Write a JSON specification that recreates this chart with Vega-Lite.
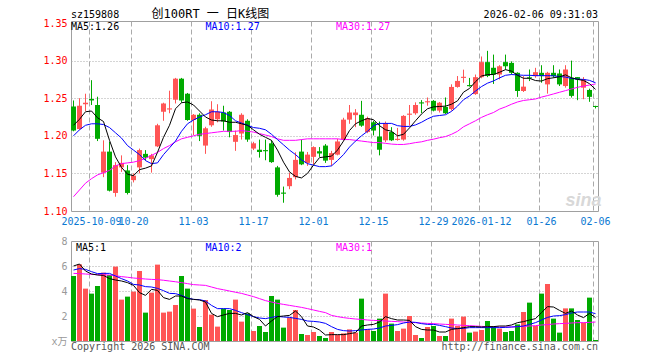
{
"$schema": "https://vega.github.io/schema/vega-lite/v6.json",
"background": "white",
"padding": {"left": 42, "top": 7, "right": 0, "bottom": 0},
"bounds": "flush",
"spacing": 30,
"config": {"view": {"stroke": "#a0a0a0", "strokeWidth": 1}, "font": "DejaVu Sans Mono, Noto Sans CJK SC", "text": {"font": "DejaVu Sans Mono, Noto Sans CJK SC", "fontSize": 10},
  "axis": {"labelOverlap": false, "labelFlush": false, "labelBound": false}},
"datasets": {"k": [
{"d":"2025-09-26","o":1.239,"h":1.247,"l":1.206,"c":1.207,"v":5.20,"m5":1.214,"m10":1.200,"m30":1.119,"vm5":6.00,"vm10":5.68,"vm30":5.41},
{"d":"2025-09-29","o":1.209,"h":1.250,"l":1.208,"c":1.240,"v":6.13,"m5":1.222,"m10":1.208,"m30":1.128,"vm5":6.16,"vm10":5.79,"vm30":5.39},
{"d":"2025-09-30","o":1.242,"h":1.256,"l":1.233,"c":1.244,"v":4.19,"m5":1.232,"m10":1.214,"m30":1.137,"vm5":5.60,"vm10":5.73,"vm30":5.36},
{"d":"2025-10-09","o":1.249,"h":1.274,"l":1.241,"c":1.247,"v":3.79,"m5":1.233,"m10":1.216,"m30":1.143,"vm5":5.36,"vm10":5.55,"vm30":5.33},
{"d":"2025-10-10","o":1.241,"h":1.252,"l":1.193,"c":1.196,"v":4.40,"m5":1.224,"m10":1.216,"m30":1.148,"vm5":5.28,"vm10":5.39,"vm30":5.31},
{"d":"2025-10-13","o":1.151,"h":1.194,"l":1.145,"c":1.179,"v":5.47,"m5":1.219,"m10":1.215,"m30":1.151,"vm5":5.25,"vm10":5.41,"vm30":5.29},
{"d":"2025-10-14","o":1.179,"h":1.192,"l":1.126,"c":1.127,"v":5.28,"m5":1.194,"m10":1.211,"m30":1.154,"vm5":4.99,"vm10":5.41,"vm30":5.28},
{"d":"2025-10-15","o":1.124,"h":1.165,"l":1.119,"c":1.161,"v":5.95,"m5":1.172,"m10":1.204,"m30":1.160,"vm5":4.88,"vm10":5.20,"vm30":5.22},
{"d":"2025-10-16","o":1.158,"h":1.174,"l":1.152,"c":1.164,"v":3.31,"m5":1.158,"m10":1.197,"m30":1.163,"vm5":4.80,"vm10":4.99,"vm30":5.15},
{"d":"2025-10-17","o":1.154,"h":1.161,"l":1.122,"c":1.124,"v":3.55,"m5":1.149,"m10":1.187,"m30":1.164,"vm5":4.67,"vm10":4.80,"vm30":5.10},
{"d":"2025-10-20","o":1.141,"h":1.150,"l":1.138,"c":1.147,"v":3.95,"m5":1.147,"m10":1.181,"m30":1.165,"vm5":4.45,"vm10":4.53,"vm30":5.04},
{"d":"2025-10-21","o":1.158,"h":1.183,"l":1.150,"c":1.181,"v":5.60,"m5":1.155,"m10":1.175,"m30":1.167,"vm5":3.87,"vm10":4.48,"vm30":5.00},
{"d":"2025-10-22","o":1.176,"h":1.181,"l":1.167,"c":1.171,"v":2.27,"m5":1.157,"m10":1.167,"m30":1.170,"vm5":3.65,"vm10":4.35,"vm30":4.96},
{"d":"2025-10-23","o":1.169,"h":1.176,"l":1.151,"c":1.174,"v":3.87,"m5":1.160,"m10":1.163,"m30":1.174,"vm5":4.13,"vm10":4.32,"vm30":4.93},
{"d":"2025-10-24","o":1.186,"h":1.216,"l":1.185,"c":1.214,"v":6.11,"m5":1.178,"m10":1.164,"m30":1.178,"vm5":4.05,"vm10":4.21,"vm30":4.91},
{"d":"2025-10-27","o":1.232,"h":1.244,"l":1.220,"c":1.243,"v":2.27,"m5":1.198,"m10":1.175,"m30":1.183,"vm5":3.47,"vm10":4.03,"vm30":4.86},
{"d":"2025-10-28","o":1.235,"h":1.260,"l":1.230,"c":1.2365,"v":2.35,"m5":1.214,"m10":1.184,"m30":1.187,"vm5":3.33,"vm10":3.81,"vm30":4.80},
{"d":"2025-10-29","o":1.248,"h":1.277,"l":1.243,"c":1.276,"v":2.88,"m5":1.236,"m10":1.193,"m30":1.192,"vm5":3.60,"vm10":3.79,"vm30":4.74},
{"d":"2025-10-30","o":1.276,"h":1.277,"l":1.244,"c":1.247,"v":5.20,"m5":1.244,"m10":1.206,"m30":1.196,"vm5":3.60,"vm10":3.65,"vm30":4.67},
{"d":"2025-10-31","o":1.256,"h":1.257,"l":1.220,"c":1.221,"v":4.19,"m5":1.245,"m10":1.216,"m30":1.198,"vm5":3.39,"vm10":3.44,"vm30":4.59},
{"d":"2025-11-03","o":1.221,"h":1.229,"l":1.201,"c":1.228,"v":2.59,"m5":1.241,"m10":1.221,"m30":1.200,"vm5":3.33,"vm10":3.33,"vm30":4.51},
{"d":"2025-11-04","o":1.228,"h":1.230,"l":1.193,"c":1.200,"v":1.12,"m5":1.233,"m10":1.225,"m30":1.202,"vm5":3.28,"vm10":3.31,"vm30":4.48},
{"d":"2025-11-05","o":1.187,"h":1.212,"l":1.176,"c":1.210,"v":3.28,"m5":1.225,"m10":1.228,"m30":1.203,"vm5":3.12,"vm10":3.20,"vm30":4.45},
{"d":"2025-11-06","o":1.214,"h":1.246,"l":1.212,"c":1.235,"v":2.11,"m5":1.221,"m10":1.232,"m30":1.204,"vm5":2.21,"vm10":2.85,"vm30":4.32},
{"d":"2025-11-07","o":1.222,"h":1.242,"l":1.218,"c":1.232,"v":1.15,"m5":1.220,"m10":1.232,"m30":1.205,"vm5":1.95,"vm10":2.59,"vm30":4.19},
{"d":"2025-11-10","o":1.231,"h":1.240,"l":1.207,"c":1.219,"v":2.59,"m5":1.220,"m10":1.231,"m30":1.206,"vm5":2.08,"vm10":2.59,"vm30":4.10},
{"d":"2025-11-11","o":1.232,"h":1.233,"l":1.198,"c":1.205,"v":2.48,"m5":1.218,"m10":1.227,"m30":1.206,"vm5":2.21,"vm10":2.59,"vm30":4.00},
{"d":"2025-11-12","o":1.192,"h":1.207,"l":1.180,"c":1.201,"v":3.31,"m5":1.218,"m10":1.220,"m30":1.206,"vm5":2.21,"vm10":2.45,"vm30":3.90},
{"d":"2025-11-13","o":1.203,"h":1.230,"l":1.195,"c":1.228,"v":1.55,"m5":1.216,"m10":1.217,"m30":1.207,"vm5":2.08,"vm10":2.27,"vm30":3.81},
{"d":"2025-11-14","o":1.220,"h":1.222,"l":1.192,"c":1.195,"v":2.21,"m5":1.214,"m10":1.214,"m30":1.206,"vm5":2.27,"vm10":2.11,"vm30":3.68},
{"d":"2025-11-17","o":1.183,"h":1.192,"l":1.181,"c":1.190,"v":0.80,"m5":1.208,"m10":1.211,"m30":1.205,"vm5":1.95,"vm10":1.95,"vm30":3.55},
{"d":"2025-11-18","o":1.1815,"h":1.195,"l":1.171,"c":1.1785,"v":1.20,"m5":1.202,"m10":1.210,"m30":1.203,"vm5":1.73,"vm10":1.84,"vm30":3.39},
{"d":"2025-11-19","o":1.181,"h":1.195,"l":1.1675,"c":1.1795,"v":0.72,"m5":1.198,"m10":1.208,"m30":1.201,"vm5":1.20,"vm10":1.79,"vm30":3.23},
{"d":"2025-11-20","o":1.190,"h":1.194,"l":1.164,"c":1.165,"v":3.60,"m5":1.194,"m10":1.202,"m30":1.199,"vm5":1.60,"vm10":1.89,"vm30":3.12},
{"d":"2025-11-21","o":1.158,"h":1.160,"l":1.119,"c":1.1215,"v":3.31,"m5":1.181,"m10":1.195,"m30":1.196,"vm5":1.95,"vm10":1.97,"vm30":3.01},
{"d":"2025-11-24","o":1.1245,"h":1.1325,"l":1.111,"c":1.123,"v":1.07,"m5":1.165,"m10":1.188,"m30":1.194,"vm5":2.00,"vm10":1.92,"vm30":2.93},
{"d":"2025-11-25","o":1.133,"h":1.151,"l":1.129,"c":1.144,"v":1.87,"m5":1.152,"m10":1.181,"m30":1.194,"vm5":2.05,"vm10":1.89,"vm30":2.85},
{"d":"2025-11-26","o":1.145,"h":1.178,"l":1.142,"c":1.168,"v":2.48,"m5":1.146,"m10":1.175,"m30":1.194,"vm5":2.40,"vm10":1.81,"vm30":2.77},
{"d":"2025-11-27","o":1.179,"h":1.195,"l":1.161,"c":1.162,"v":0.56,"m5":1.144,"m10":1.168,"m30":1.195,"vm5":1.95,"vm10":1.73,"vm30":2.69},
{"d":"2025-11-28","o":1.164,"h":1.1785,"l":1.160,"c":1.175,"v":0.48,"m5":1.150,"m10":1.163,"m30":1.196,"vm5":1.20,"vm10":1.60,"vm30":2.59},
{"d":"2025-12-01","o":1.172,"h":1.186,"l":1.162,"c":1.185,"v":0.72,"m5":1.161,"m10":1.161,"m30":1.196,"vm5":1.12,"vm10":1.57,"vm30":2.48},
{"d":"2025-12-02","o":1.1795,"h":1.185,"l":1.172,"c":1.1765,"v":0.40,"m5":1.171,"m10":1.159,"m30":1.196,"vm5":0.88,"vm10":1.52,"vm30":2.37},
{"d":"2025-12-03","o":1.187,"h":1.189,"l":1.164,"c":1.167,"v":0.24,"m5":1.172,"m10":1.159,"m30":1.196,"vm5":0.48,"vm10":1.41,"vm30":2.27},
{"d":"2025-12-04","o":1.168,"h":1.180,"l":1.160,"c":1.177,"v":0.72,"m5":1.173,"m10":1.160,"m30":1.196,"vm5":0.51,"vm10":1.15,"vm30":2.05},
{"d":"2025-12-05","o":1.175,"h":1.196,"l":1.174,"c":1.1925,"v":0.48,"m5":1.181,"m10":1.167,"m30":1.196,"vm5":0.51,"vm10":0.93,"vm30":1.95},
{"d":"2025-12-08","o":1.195,"h":1.224,"l":1.194,"c":1.2215,"v":0.61,"m5":1.193,"m10":1.175,"m30":1.195,"vm5":0.51,"vm10":0.83,"vm30":1.87},
{"d":"2025-12-09","o":1.2215,"h":1.241,"l":1.216,"c":1.231,"v":0.93,"m5":1.207,"m10":1.185,"m30":1.195,"vm5":0.59,"vm10":0.80,"vm30":1.81},
{"d":"2025-12-10","o":1.2275,"h":1.2355,"l":1.2115,"c":1.231,"v":0.67,"m5":1.216,"m10":1.193,"m30":1.194,"vm5":0.67,"vm10":0.83,"vm30":1.76},
{"d":"2025-12-11","o":1.228,"h":1.2465,"l":1.212,"c":1.2135,"v":3.39,"m5":1.220,"m10":1.200,"m30":1.193,"vm5":1.20,"vm10":0.88,"vm30":1.73},
{"d":"2025-12-12","o":1.205,"h":1.2255,"l":1.2035,"c":1.2235,"v":0.93,"m5":1.223,"m10":1.206,"m30":1.192,"vm5":1.28,"vm10":0.93,"vm30":1.68},
{"d":"2025-12-15","o":1.218,"h":1.220,"l":1.2005,"c":1.207,"v":0.80,"m5":1.2215,"m10":1.2135,"m30":1.191,"vm5":1.33,"vm10":0.96,"vm30":1.65},
{"d":"2025-12-16","o":1.199,"h":1.219,"l":1.174,"c":1.1815,"v":1.79,"m5":1.2135,"m10":1.2165,"m30":1.191,"vm5":1.52,"vm10":1.04,"vm30":1.63},
{"d":"2025-12-17","o":1.194,"h":1.219,"l":1.1915,"c":1.217,"v":3.79,"m5":1.208,"m10":1.2165,"m30":1.190,"vm5":1.95,"vm10":1.20,"vm30":1.60},
{"d":"2025-12-18","o":1.205,"h":1.2115,"l":1.193,"c":1.194,"v":1.39,"m5":1.206,"m10":1.2165,"m30":1.189,"vm5":1.79,"vm10":1.25,"vm30":1.57},
{"d":"2025-12-19","o":1.1945,"h":1.2105,"l":1.1935,"c":1.196,"v":0.80,"m5":1.200,"m10":1.2135,"m30":1.1885,"vm5":1.68,"vm10":1.31,"vm30":1.55},
{"d":"2025-12-22","o":1.195,"h":1.2275,"l":1.1935,"c":1.2265,"v":0.99,"m5":1.202,"m10":1.2125,"m30":1.1885,"vm5":1.68,"vm10":1.44,"vm30":1.52},
{"d":"2025-12-23","o":1.228,"h":1.241,"l":1.2135,"c":1.2295,"v":2.00,"m5":1.2105,"m10":1.2125,"m30":1.1895,"vm5":1.65,"vm10":1.52,"vm30":1.49},
{"d":"2025-12-24","o":1.230,"h":1.2445,"l":1.228,"c":1.241,"v":0.48,"m5":1.220,"m10":1.2145,"m30":1.191,"vm5":1.15,"vm10":1.49,"vm30":1.47},
{"d":"2025-12-25","o":1.2445,"h":1.2475,"l":1.230,"c":1.243,"v":0.24,"m5":1.229,"m10":1.218,"m30":1.192,"vm5":0.93,"vm10":1.39,"vm30":1.44},
{"d":"2025-12-26","o":1.2445,"h":1.251,"l":1.240,"c":1.246,"v":1.12,"m5":1.236,"m10":1.2225,"m30":1.194,"vm5":0.88,"vm10":1.33,"vm30":1.41},
{"d":"2025-12-29","o":1.2465,"h":1.2475,"l":1.2325,"c":1.2335,"v":1.20,"m5":1.2385,"m10":1.226,"m30":1.1955,"vm5":0.88,"vm10":1.33,"vm30":1.39},
{"d":"2025-12-30","o":1.2335,"h":1.245,"l":1.231,"c":1.244,"v":0.40,"m5":1.239,"m10":1.227,"m30":1.1975,"vm5":0.72,"vm10":1.25,"vm30":1.36},
{"d":"2025-12-31","o":1.2385,"h":1.251,"l":1.229,"c":1.230,"v":0.40,"m5":1.2395,"m10":1.228,"m30":1.199,"vm5":0.72,"vm10":1.15,"vm30":1.33},
{"d":"2026-01-05","o":1.2355,"h":1.2685,"l":1.2335,"c":1.265,"v":1.79,"m5":1.242,"m10":1.2325,"m30":1.202,"vm5":0.93,"vm10":1.04,"vm30":1.31},
{"d":"2026-01-06","o":1.265,"h":1.2795,"l":1.264,"c":1.273,"v":1.20,"m5":1.2465,"m10":1.2395,"m30":1.206,"vm5":0.99,"vm10":0.99,"vm30":1.28},
{"d":"2026-01-07","o":1.277,"h":1.288,"l":1.2705,"c":1.2785,"v":1.95,"m5":1.258,"m10":1.248,"m30":1.212,"vm5":1.07,"vm10":1.01,"vm30":1.25},
{"d":"2026-01-08","o":1.2675,"h":1.277,"l":1.2655,"c":1.266,"v":0.67,"m5":1.263,"m10":1.253,"m30":1.216,"vm5":1.15,"vm10":1.07,"vm30":1.23},
{"d":"2026-01-09","o":1.2555,"h":1.2815,"l":1.2545,"c":1.278,"v":0.75,"m5":1.272,"m10":1.2595,"m30":1.220,"vm5":1.15,"vm10":1.07,"vm30":1.20},
{"d":"2026-01-12","o":1.278,"h":1.3055,"l":1.2765,"c":1.298,"v":0.88,"m5":1.2795,"m10":1.2655,"m30":1.2245,"vm5":1.12,"vm10":1.07,"vm30":1.17},
{"d":"2026-01-13","o":1.298,"h":1.313,"l":1.278,"c":1.2795,"v":1.60,"m5":1.2815,"m10":1.270,"m30":1.228,"vm5":1.15,"vm10":1.07,"vm30":1.15},
{"d":"2026-01-14","o":1.2905,"h":1.308,"l":1.269,"c":1.2815,"v":1.20,"m5":1.2815,"m10":1.273,"m30":1.231,"vm5":1.15,"vm10":1.07,"vm30":1.15},
{"d":"2026-01-15","o":1.2815,"h":1.294,"l":1.275,"c":1.2925,"v":0.99,"m5":1.2845,"m10":1.277,"m30":1.2355,"vm5":1.20,"vm10":1.07,"vm30":1.12},
{"d":"2026-01-16","o":1.298,"h":1.308,"l":1.288,"c":1.2925,"v":0.72,"m5":1.288,"m10":1.2805,"m30":1.2385,"vm5":1.20,"vm10":1.09,"vm30":1.12},
{"d":"2026-01-19","o":1.297,"h":1.299,"l":1.2815,"c":1.2838,"v":0.80,"m5":1.286,"m10":1.2815,"m30":1.242,"vm5":1.28,"vm10":1.12,"vm30":1.12},
{"d":"2026-01-20","o":1.2838,"h":1.2845,"l":1.2518,"c":1.2596,"v":1.33,"m5":1.2805,"m10":1.281,"m30":1.245,"vm5":1.47,"vm10":1.15,"vm30":1.15},
{"d":"2026-01-21","o":1.2596,"h":1.2794,"l":1.2583,"c":1.2654,"v":2.32,"m5":1.2765,"m10":1.2805,"m30":1.247,"vm5":1.55,"vm10":1.20,"vm30":1.17},
{"d":"2026-01-22","o":1.2778,"h":1.2882,"l":1.2728,"c":1.2765,"v":3.07,"m5":1.2765,"m10":1.2805,"m30":1.248,"vm5":1.68,"vm10":1.33,"vm30":1.20},
{"d":"2026-01-23","o":1.2794,"h":1.2904,"l":1.2772,"c":1.2846,"v":1.20,"m5":1.2735,"m10":1.280,"m30":1.249,"vm5":1.79,"vm10":1.47,"vm30":1.23},
{"d":"2026-01-26","o":1.2838,"h":1.2939,"l":1.2706,"c":1.2794,"v":3.79,"m5":1.2728,"m10":1.280,"m30":1.2515,"vm5":2.27,"vm10":1.68,"vm30":1.28},
{"d":"2026-01-27","o":1.2684,"h":1.2851,"l":1.2561,"c":1.2838,"v":4.56,"m5":1.276,"m10":1.280,"m30":1.2535,"vm5":2.75,"vm10":1.89,"vm30":1.31},
{"d":"2026-01-28","o":1.2838,"h":1.2939,"l":1.2772,"c":1.2794,"v":1.79,"m5":1.2772,"m10":1.2798,"m30":1.2557,"vm5":2.72,"vm10":2.00,"vm30":1.36},
{"d":"2026-01-29","o":1.2829,"h":1.2882,"l":1.2662,"c":1.2684,"v":0.67,"m5":1.2785,"m10":1.2789,"m30":1.2579,"vm5":2.45,"vm10":2.03,"vm30":1.39},
{"d":"2026-01-30","o":1.2662,"h":1.2939,"l":1.264,"c":1.2882,"v":2.61,"m5":1.2811,"m10":1.2781,"m30":1.2601,"vm5":2.21,"vm10":2.11,"vm30":1.41},
{"d":"2026-02-02","o":1.2772,"h":1.300,"l":1.2509,"c":1.2531,"v":2.61,"m5":1.2772,"m10":1.2763,"m30":1.2623,"vm5":2.40,"vm10":2.24,"vm30":1.44},
{"d":"2026-02-03","o":1.2781,"h":1.2781,"l":1.2474,"c":1.275,"v":1.68,"m5":1.275,"m10":1.2754,"m30":1.2645,"vm5":2.08,"vm10":2.32,"vm30":1.47},
{"d":"2026-02-04","o":1.264,"h":1.2781,"l":1.2487,"c":1.275,"v":1.47,"m5":1.2737,"m10":1.275,"m30":1.2662,"vm5":1.87,"vm10":2.32,"vm30":1.47},
{"d":"2026-02-05","o":1.261,"h":1.2627,"l":1.2452,"c":1.2518,"v":3.47,"m5":1.2693,"m10":1.2737,"m30":1.2675,"vm5":2.21,"vm10":2.32,"vm30":1.49},
{"d":"2026-02-06","o":1.2397,"h":1.2399,"l":1.2364,"c":1.2383,"v":0.08,"m5":1.2618,"m10":1.2706,"m30":1.2689,"vm5":1.87,"vm10":2.19,"vm30":1.52}
]},
"vconcat": [
{
 "width": 527, "height": 190,
 "encoding": {"x": {"field": "d", "type": "ordinal", "scale": {"type": "band", "paddingInner": 0.16666666666666666, "paddingOuter": 0},
   "axis": {"values": ["2025-10-09","2025-10-20","2025-11-03","2025-11-17","2025-12-01","2025-12-15","2025-12-29","2026-01-12","2026-01-26","2026-02-06"],
     "labelExpr": "(datum.value=='2025-10-09'||datum.value=='2026-01-12') ? datum.value : substring(datum.value,5)",
     "bandPosition": 0, "grid": true, "gridDash": [5,3], "gridColor": "#aaaaaa", "ticks": false, "domain": false,
     "labelColor": "#0a78d2", "labelFont": "DejaVu Sans Mono", "labelFontSize": 10, "labelPadding": 5, "labelAngle": 0, "labelOverlap": false, "labelFlush": false, "title": null}}},
 "layer": [
  {"data": {"name": "k"}, "mark": {"type": "rule", "strokeWidth": 1},
   "encoding": {"y": {"field": "l", "type": "quantitative", "scale": {"domain": [1.1, 1.3527], "nice": false, "zero": false},
      "axis": {"values": [1.1,1.15,1.2,1.25,1.3,1.35], "tickCount": 20, "format": ".2f", "grid": true, "gridDash": [1,2], "gridColor": "#aaaaaa",
        "gridOpacity": {"condition": {"test": "datum.value < 1.12 || datum.value > 1.34", "value": 0}, "value": 1},
        "ticks": false, "domain": false, "labelColor": "#ff0000", "labelFont": "DejaVu Sans Mono", "labelFontSize": 10, "labelPadding": 4, "labelOverlap": false, "labelFlush": false, "title": null}},
     "y2": {"field": "h"},
     "color": {"condition": {"test": "datum.c >= datum.o", "value": "#ff5555"}, "value": "#00aa00"}}},
  {"data": {"name": "k"}, "mark": {"type": "bar"},
   "encoding": {"y": {"field": "o", "type": "quantitative"}, "y2": {"field": "c"},
     "color": {"condition": {"test": "datum.c >= datum.o", "value": "#ff5555"}, "value": "#00aa00"}}},
  {"data": {"name": "k"}, "mark": {"type": "line", "color": "#ff00ff", "strokeWidth": 1}, "encoding": {"y": {"field": "m30", "type": "quantitative"}}},
  {"data": {"name": "k"}, "mark": {"type": "line", "color": "#0000ff", "strokeWidth": 1}, "encoding": {"y": {"field": "m10", "type": "quantitative"}}},
  {"data": {"name": "k"}, "mark": {"type": "line", "color": "#000000", "strokeWidth": 1}, "encoding": {"y": {"field": "m5", "type": "quantitative"}}},
  {"data": {"values": [{"d": "2025-09-26", "p": 1.3573, "t": "sz159808"}, {"d": "2025-09-26", "p": 1.3405, "t": "MA5:1.26"}]},
   "mark": {"type": "text", "align": "left", "baseline": "alphabetic", "dx": -2.5, "color": "#000000"},
   "encoding": {"y": {"field": "p", "type": "quantitative"}, "text": {"field": "t"}}},
  {"data": {"values": [{"d": "2025-10-23", "p": 1.3573, "t": "创100RT 一 日K线图"}]},
   "mark": {"type": "text", "align": "left", "baseline": "alphabetic", "fontSize": 12, "color": "#000000"},
   "encoding": {"y": {"field": "p", "type": "quantitative"}, "text": {"field": "t"}}},
  {"data": {"values": [{"d": "2026-02-06", "p": 1.3573, "t": "2026-02-06 09:31:03"}]},
   "mark": {"type": "text", "align": "right", "baseline": "alphabetic", "dx": 2.5, "color": "#000000"},
   "encoding": {"y": {"field": "p", "type": "quantitative"}, "text": {"field": "t"}}},
  {"data": {"values": [{"d": "2025-11-05", "p": 1.3405, "t": "MA10:1.27"}]},
   "mark": {"type": "text", "align": "left", "baseline": "alphabetic", "color": "#0000ff"},
   "encoding": {"y": {"field": "p", "type": "quantitative"}, "text": {"field": "t"}}},
  {"data": {"values": [{"d": "2025-12-05", "p": 1.3405, "t": "MA30:1.27"}]},
   "mark": {"type": "text", "align": "left", "baseline": "alphabetic", "dx": -1.5, "color": "#ff00ff"},
   "encoding": {"y": {"field": "p", "type": "quantitative"}, "text": {"field": "t"}}},
  {"data": {"values": [{"d": "2026-01-29", "p": 1.107, "t": "sina"}]},
   "mark": {"type": "text", "align": "left", "baseline": "alphabetic", "dx": 6, "font": "Liberation Sans", "fontStyle": "italic", "fontWeight": "bold", "fontSize": 18, "color": "#d8d8d8"},
   "encoding": {"y": {"field": "p", "type": "quantitative"}, "text": {"field": "t"}}}
 ]
},
{
 "width": 527, "height": 100,
 "encoding": {"x": {"field": "d", "type": "ordinal", "scale": {"type": "band", "paddingInner": 0.16666666666666666, "paddingOuter": 0},
   "axis": {"values": ["2025-10-09","2025-10-20","2025-11-03","2025-11-17","2025-12-01","2025-12-15","2025-12-29","2026-01-12","2026-01-26","2026-02-06"],
     "bandPosition": 0, "grid": true, "gridDash": [5,3], "gridColor": "#aaaaaa", "ticks": false, "domain": false, "labels": false, "title": null}}},
 "layer": [
  {"data": {"name": "k"}, "mark": {"type": "bar"},
   "encoding": {"y": {"field": "v", "type": "quantitative", "scale": {"domain": [0, 8], "nice": false},
      "axis": {"values": [0,2,4,6,8], "tickCount": 20, "format": "d", "labelExpr": "datum.value == 0 ? 'x万' : datum.label", "grid": true, "gridDash": [1,2], "gridColor": "#aaaaaa",
        "gridOpacity": {"condition": {"test": "datum.value < 1 || datum.value > 7", "value": 0}, "value": 1},
        "ticks": false, "domain": false, "labelColor": "#999999", "labelFont": "DejaVu Sans Mono, Noto Sans CJK SC", "labelFontSize": 10, "labelPadding": 4, "labelOverlap": false, "labelFlush": false, "title": null}},
     "color": {"condition": {"test": "datum.c >= datum.o", "value": "#ff5555"}, "value": "#00aa00"}}},
  {"data": {"name": "k"}, "mark": {"type": "line", "color": "#ff00ff", "strokeWidth": 1}, "encoding": {"y": {"field": "vm30", "type": "quantitative"}}},
  {"data": {"name": "k"}, "mark": {"type": "line", "color": "#0000ff", "strokeWidth": 1}, "encoding": {"y": {"field": "vm10", "type": "quantitative"}}},
  {"data": {"name": "k"}, "mark": {"type": "line", "color": "#000000", "strokeWidth": 1}, "encoding": {"y": {"field": "vm5", "type": "quantitative"}}},
  {"data": {"values": [{"d": "2025-09-26", "p": 7.2, "t": "MA5:1"}]},
   "mark": {"type": "text", "align": "left", "baseline": "alphabetic", "dx": 2.5, "color": "#000000"},
   "encoding": {"y": {"field": "p", "type": "quantitative"}, "text": {"field": "t"}}},
  {"data": {"values": [{"d": "2025-11-05", "p": 7.2, "t": "MA10:2"}]},
   "mark": {"type": "text", "align": "left", "baseline": "alphabetic", "color": "#0000ff"},
   "encoding": {"y": {"field": "p", "type": "quantitative"}, "text": {"field": "t"}}},
  {"data": {"values": [{"d": "2025-12-05", "p": 7.2, "t": "MA30:1"}]},
   "mark": {"type": "text", "align": "left", "baseline": "alphabetic", "dx": -1.5, "color": "#ff00ff"},
   "encoding": {"y": {"field": "p", "type": "quantitative"}, "text": {"field": "t"}}},
  {"data": {"values": [{"d": "2025-09-26", "p": -0.72, "t": "Copyright 2026 SINA.COM"}]},
   "mark": {"type": "text", "align": "left", "baseline": "alphabetic", "dx": -2.5, "color": "#555555"},
   "encoding": {"y": {"field": "p", "type": "quantitative"}, "text": {"field": "t"}}},
  {"data": {"values": [{"d": "2026-02-06", "p": -0.72, "t": "http://finance.sina.com.cn"}]},
   "mark": {"type": "text", "align": "right", "baseline": "alphabetic", "dx": 2.5, "color": "#555555"},
   "encoding": {"y": {"field": "p", "type": "quantitative"}, "text": {"field": "t"}}}
 ]
}
]
}
